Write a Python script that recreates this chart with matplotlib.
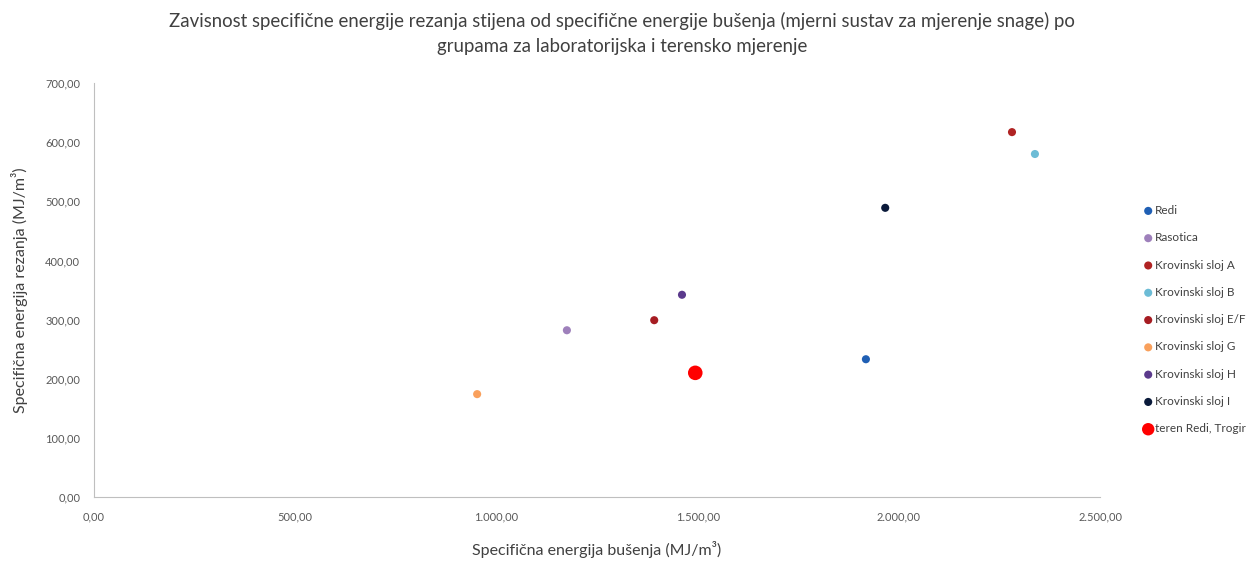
import matplotlib
matplotlib.use("Agg")
import matplotlib.pyplot as plt
from matplotlib.ticker import FuncFormatter

# podaci ocitani sa grafa
groups = ["Redi", "Rasotica", "Krovinski sloj A", "Krovinski sloj B", "Krovinski sloj E/F",
          "Krovinski sloj G", "Krovinski sloj H", "Krovinski sloj I", "teren Redi, Trogir"]
bušenje = [1918, 1175, 2281, 2338, 1392, 952, 1461, 1966, 1494]
rezanje = [233, 282, 617, 580, 299, 174, 342, 489, 210]
colors = ["#1f5fb4", "#9e80bb", "#b02323", "#6cbcd6", "#a61c22",
          "#f9a05c", "#5b3a8c", "#0a1a3a", "#ff0000"]
sizes = [34, 34, 34, 34, 34, 34, 34, 34, 110]

plt.rcParams['font.family'] = ['Lato', 'DejaVu Sans']

fig = plt.figure(figsize=(12.57, 5.61), dpi=100)
ax = fig.add_axes([0.0748, 0.114, 0.8004, 0.738])

for g, x, y, c, s in zip(groups, bušenje, rezanje, colors, sizes):
    ax.scatter(x, y, s=s, color=c, label=g, edgecolors='none', zorder=3)

ax.set_xlim(0, 2500)
ax.set_ylim(0, 700)
ax.set_xticks(range(0, 2501, 500))
ax.set_yticks(range(0, 701, 100))

def fmt(v, pos):
    s = f"{v:,.2f}"
    return s.replace(",", "X").replace(".", ",").replace("X", ".")

ax.xaxis.set_major_formatter(FuncFormatter(fmt))
ax.yaxis.set_major_formatter(FuncFormatter(fmt))
ax.tick_params(length=0, labelsize=8, colors="#595959", pad=10)

for side in ["top", "right"]:
    ax.spines[side].set_visible(False)
for side in ["left", "bottom"]:
    ax.spines[side].set_color("#bfbfbf")

ax.set_xlabel("Specifična energija bušenja (MJ/m³)", fontsize=11.5, color="#404040", labelpad=14)
ax.set_ylabel("Specifična energija rezanja (MJ/m³)", fontsize=11.5, color="#404040", labelpad=12)

fig.suptitle("Zavisnost specifične energije rezanja stijena od specifične energije bušenja (mjerni sustav za mjerenje snage) po\n"
             "grupama za laboratorijska i terensko mjerenje",
             x=0.495, y=0.978, fontsize=13.4, color="#404040", linespacing=1.55)

leg = fig.legend(loc="upper left", bbox_to_anchor=(0.905, 0.643), frameon=False, fontsize=8.5,
                 handletextpad=0.1, labelspacing=1.38, borderaxespad=0, handlelength=1.0,
                 labelcolor="#404040")
leg.legend_handles[-1].set_sizes([80])

fig.savefig("out.png", dpi=100)
